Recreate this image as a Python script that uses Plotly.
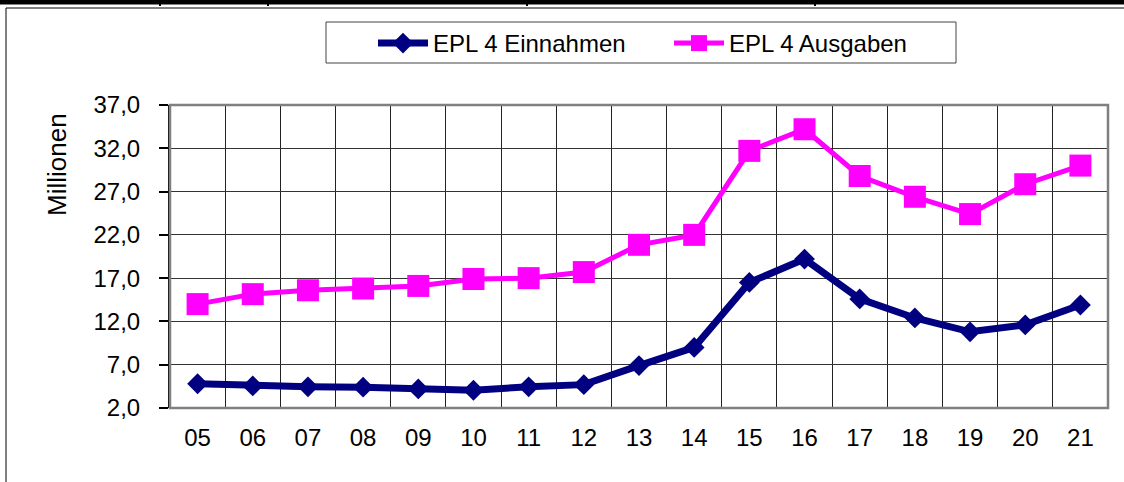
import plotly.graph_objects as go

years = ["05", "06", "07", "08", "09", "10", "11", "12", "13", "14", "15", "16", "17", "18", "19", "20", "21"]
einnahmen = [4.8, 4.55, 4.45, 4.4, 4.2, 4.05, 4.45, 4.7, 6.9, 9.0, 16.5, 19.2, 14.6, 12.4, 10.8, 11.6, 13.9]
ausgaben = [14.0, 15.15, 15.6, 15.8, 16.1, 16.9, 17.0, 17.7, 20.85, 22.0, 31.7, 34.2, 28.8, 26.4, 24.4, 27.85, 30.0]
ytick_vals = [2, 7, 12, 17, 22, 27, 32, 37]
name_ein = "EPL 4 Einnahmen"
name_aus = "EPL 4 Ausgaben"
y_title = "Millionen"

W, H = 1124, 482
L, R, T, B = 170, 1108, 105, 408
pw, ph = R - L, B - T

def px(x):
    return (x - L) / pw

def py(y):
    return (B - y) / ph

FONT = "Arial, Liberation Sans, sans-serif"

fig = go.Figure()
fig.add_trace(go.Scatter(
    x=years, y=einnahmen, name=name_ein, mode="lines+markers",
    line=dict(color="#000080", width=7),
    marker=dict(symbol="diamond", size=16, color="#000080"),
))
fig.add_trace(go.Scatter(
    x=years, y=ausgaben, name=name_aus, mode="lines+markers",
    line=dict(color="#FF00FF", width=5),
    marker=dict(symbol="square", size=22, color="#FF00FF"),
))

shapes = [
    # plot area border (gray)
    dict(type="rect", xref="paper", yref="paper", x0=0, x1=1, y0=0, y1=1,
         line=dict(color="#808080", width=2.5), layer="above"),
    # outer frame
    dict(type="line", xref="paper", yref="paper", x0=px(6), x1=px(6), y0=py(8), y1=py(490),
         line=dict(color="black", width=1)),
    dict(type="line", xref="paper", yref="paper", x0=px(6), x1=px(1130), y0=py(8), y1=py(8),
         line=dict(color="black", width=1)),
    # top thick document rule
    dict(type="line", xref="paper", yref="paper", x0=px(-5), x1=px(1130), y0=py(2), y1=py(2),
         line=dict(color="black", width=5)),
    # legend box
    dict(type="rect", xref="paper", yref="paper", x0=px(326), x1=px(956), y0=py(22), y1=py(63),
         line=dict(color="#444", width=1), fillcolor="white", layer="above"),
]
for xv in [160, 268, 527, 815]:
    shapes.append(dict(type="line", xref="paper", yref="paper", x0=px(xv), x1=px(xv),
                       y0=py(0), y1=py(6), line=dict(color="black", width=2)))

fig.update_layout(
    width=W, height=H,
    margin=dict(l=L, r=W - R, t=T, b=H - B, pad=0),
    paper_bgcolor="white", plot_bgcolor="white",
    separators=", ",
    font=dict(family=FONT, size=24, color="black"),
    showlegend=True,
    legend=dict(
        orientation="h", x=px(373), y=py(21), xanchor="left", yanchor="top",
        bgcolor="rgba(0,0,0,0)", borderwidth=0,
        font=dict(family=FONT, size=24, color="black"),
        entrywidth=231, entrywidthmode="pixels",
        itemwidth=50,
    ),
    shapes=shapes,
    annotations=[dict(text=y_title, xref="paper", yref="paper", x=px(57), y=py(165),
                      xanchor="center", yanchor="middle",
                      textangle=-90, showarrow=False, font=dict(family=FONT, size=26, color="black"))],
)
fig.update_xaxes(
    type="category", range=[-0.5, len(years) - 0.5], autorange=False,
    showgrid=True, gridcolor="#222", gridwidth=1,
    tickson="boundaries", ticks="", showline=False,
    tickfont=dict(family=FONT, size=24), ticklabelstandoff=13,
)
fig.update_yaxes(
    range=[2, 37], tickvals=ytick_vals, tickformat=".1f",
    showgrid=True, gridcolor="#333", gridwidth=1,
    ticks="outside", ticklen=9, tickcolor="black", tickwidth=1.5,
    showline=True, linecolor="black", linewidth=2,
    tickfont=dict(family=FONT, size=24), ticklabelstandoff=14,
    zeroline=False,
)
fig.write_html("out.html", config={"displayModeBar": False},
               post_script="document.body.style.margin='0';document.body.style.overflow='hidden';")
